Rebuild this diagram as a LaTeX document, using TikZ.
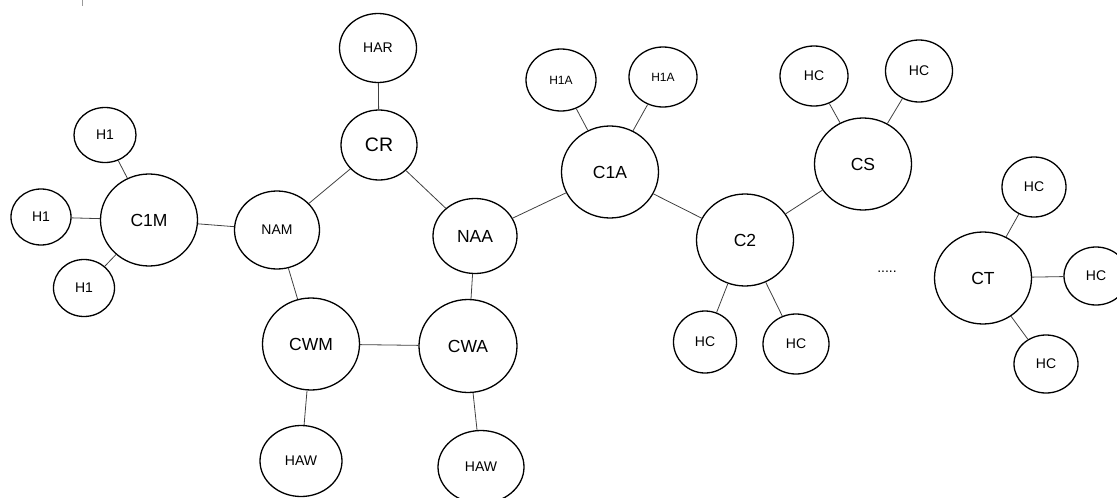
\documentclass[tikz,border=0pt]{standalone}
\usepackage{fontspec}
\setmainfont{Liberation Sans}
\usetikzlibrary{shapes.geometric}

\begin{document}
\begin{tikzpicture}[x=1pt, y=-1pt,
    atom/.style={draw, ellipse, line width=1.3pt, inner sep=0pt,
        minimum width=97pt, minimum height=92pt,
        font=\fontsize{17.5}{20}\selectfont},
    hatom/.style={draw, ellipse, line width=1.3pt, inner sep=0pt,
        minimum width=66pt, minimum height=59pt,
        font=\fontsize{14}{16}\selectfont},
    bond/.style={draw=black!75, line width=0.8pt}]
    \useasboundingbox (0,0) rectangle (1117,498);
    \draw [black!40, line width=0.6pt] (82,0) -- (82,6);

    % methyl side
    \node [atom] (c1m) at (149,220) {C1M};
    \node [hatom, minimum width=62pt, minimum height=55pt] (h1a) at (105,135) {H1};
    \node [hatom, minimum width=60pt, minimum height=56pt] (h1b) at (41,217) {H1};
    \node [hatom, minimum width=61pt, minimum height=57pt] (h1c) at (84,288) {H1};

    % ring
    \node [hatom, minimum width=85pt, minimum height=78pt] (nam) at (277,230) {NAM};
    \node [atom, minimum width=76pt, minimum height=70pt,
        font=\fontsize{19.5}{22}\selectfont] (cr) at (379,145) {CR};
    \node [hatom, minimum width=77pt, minimum height=69pt] (har) at (378,48) {HAR};
    \node [atom, minimum width=84pt, minimum height=75pt] (naa) at (475,236) {NAA};
    \node [atom] (cwm) at (311,344) {CWM};
    \node [atom, minimum width=98pt, minimum height=93pt] (cwa) at (468,346) {CWA};
    \node [hatom, minimum width=82pt, minimum height=71pt] (hawm) at (301,461) {HAW};
    \node [hatom, minimum width=86pt, minimum height=73pt] (hawa) at (481,467) {HAW};

    % chain
    \node [atom] (c1a) at (610,172) {C1A};
    \node [hatom, minimum width=70pt, minimum height=62pt,
        font=\fontsize{12}{14}\selectfont] (h1aa) at (561,80) {H1A};
    \node [hatom, minimum width=68pt, minimum height=60pt,
        font=\fontsize{12}{14}\selectfont] (h1ab) at (663,77) {H1A};
    \node [atom] (c2) at (745,240) {C2};
    \node [hatom, minimum width=63pt, minimum height=62pt] (hc2a) at (705,342) {HC};
    \node [hatom, minimum width=66pt, minimum height=60pt] (hc2b) at (796,344) {HC};
    \node [atom] (cs) at (863,164) {CS};
    \node [hatom, minimum width=68pt, minimum height=60pt] (hcsa) at (814,76) {HC};
    \node [hatom, minimum width=67pt, minimum height=62pt] (hcsb) at (919,71) {HC};

    \node [font=\fontsize{14}{16}\selectfont] (dots) at (887,272) {.....};

    % terminal
    \node [atom] (ct) at (983,278) {CT};
    \node [hatom, minimum width=64pt, minimum height=60pt] (hcta) at (1034,187) {HC};
    \node [hatom, minimum width=64pt, minimum height=58pt] (hctb) at (1096,276) {HC};
    \node [hatom, minimum width=64pt, minimum height=58pt] (hctc) at (1046,364) {HC};

    \draw [bond] (c1m) -- (h1a);
    \draw [bond] (c1m) -- (h1b);
    \draw [bond] (c1m) -- (h1c);
    \draw [bond] (c1m) -- (nam);

    \draw [bond] (nam) -- (cr);
    \draw [bond] (cr) -- (har);
    \draw [bond] (cr) -- (naa);
    \draw [bond] (nam) -- (cwm);
    \draw [bond] (naa) -- (cwa);
    \draw [bond] (cwm) -- (cwa);
    \draw [bond] (cwm) -- (hawm);
    \draw [bond] (cwa) -- (hawa);

    \draw [bond] (naa) -- (c1a);
    \draw [bond] (c1a) -- (h1aa);
    \draw [bond] (c1a) -- (h1ab);
    \draw [bond] (c1a) -- (c2);
    \draw [bond] (c2) -- (hc2a);
    \draw [bond] (c2) -- (hc2b);
    \draw [bond] (c2) -- (cs);
    \draw [bond] (cs) -- (hcsa);
    \draw [bond] (cs) -- (hcsb);

    \draw [bond] (ct) -- (hcta);
    \draw [bond] (ct) -- (hctb);
    \draw [bond] (ct) -- (hctc);
\end{tikzpicture}
\end{document}
